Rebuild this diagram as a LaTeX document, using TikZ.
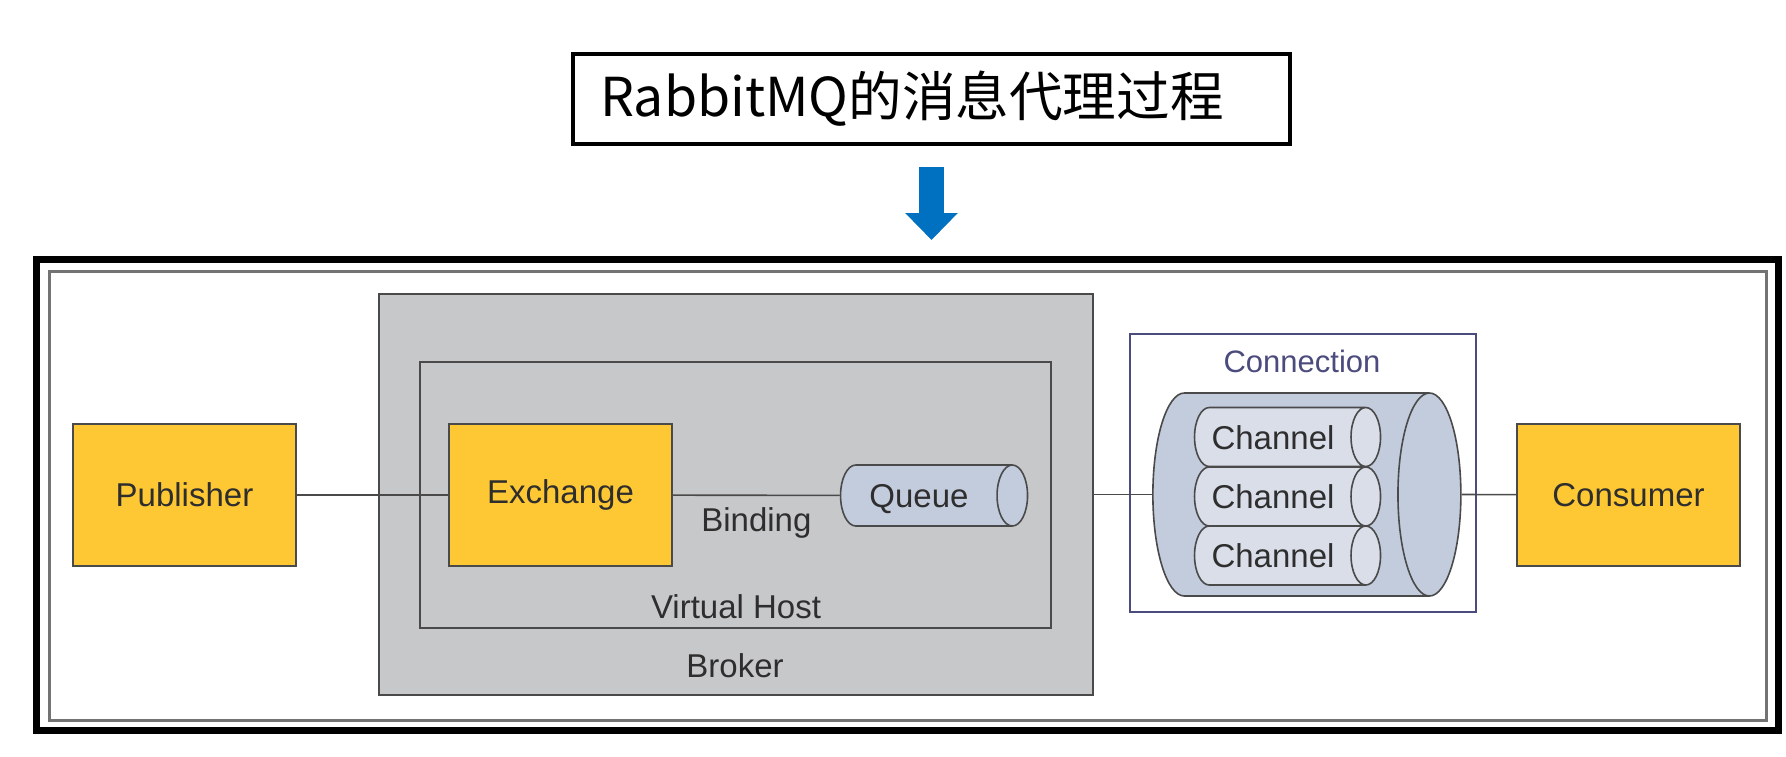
\documentclass[tikz,border=0pt]{standalone}
\usepackage{fontspec}
\setmainfont{Liberation Sans}
\newfontfamily\cjkfont{Noto Sans CJK SC}
\usetikzlibrary{shapes,arrows.meta,positioning}

\definecolor{boxyellow}{HTML}{FDC833}
\definecolor{brokergray}{HTML}{C7C8CA}
\definecolor{edgegray}{HTML}{4A4A4A}
\definecolor{textgray}{HTML}{2E2E2E}
\definecolor{pipeblue}{HTML}{C3CCDD}
\definecolor{chanblue}{HTML}{D9DEE9}
\definecolor{connpurple}{HTML}{4B4B7D}
\definecolor{arrowblue}{HTML}{0070C0}

\begin{document}
\begin{tikzpicture}[%
    x=0.5pt, y=-0.5pt,          % coordinates are pixels, y goes down
    every node/.style={font=\fontsize{16.5}{19}\selectfont, text=textgray},
    ]
% -------------------------------------------------
% A few box styles
\tikzset{
  base/.style={draw=edgegray, line width=1pt, align=center},
  role/.style={base, fill=boxyellow, minimum width=111.5pt, minimum height=71pt},
  area/.style={base, fill=brokergray},
  % cylinder: minimum height is the length, inner ysep gives the diameter
  pipe/.style={cylinder, base, line width=0.8pt, cylinder uses custom fill,
    cylinder body fill=#1, cylinder end fill=#1, inner xsep=0pt,
    text height=12pt, text depth=0pt},
  link/.style={draw=edgegray, line width=0.8pt},
  bigarrow/.style={draw=arrowblue, line width=12.5pt,
    -{Triangle[width=25.5pt,length=13.5pt]}},
  lbl/.style={inner sep=0pt}
}
\useasboundingbox (0,0) rectangle (1786,756);
% -------------------------------------------------
% Title and the frame round the picture
\node [draw=black, line width=2pt, minimum height=45pt, text width=331.5pt,
       inner xsep=13.5pt, align=left, font=\cjkfont\fontsize{26.8}{30}\selectfont,
       text=black] (title) at (931.5,99) {RabbitMQ的消息代理过程};
\node [draw=black, line width=3.5pt, minimum width=871pt, minimum height=235.5pt]
      (frame) at (907.5,495) {};
\node [draw=gray!90!black, line width=1.5pt, minimum width=858.5pt,
       minimum height=224.5pt] (panel) at (907.5,495.5) {};
\draw[bigarrow, shorten <=10.5pt, shorten >=8pt] (title.south) -- (title.south |- frame.north);

% -------------------------------------------------
% Broker with its virtual host
\node [area, minimum width=357pt, minimum height=200.5pt] (broker) at (736,494.5) {};
\node [base, minimum width=315.5pt, minimum height=133pt] (vhost) at (735.5,495) {};
\node [lbl] at (735,666) {Broker};
\node [lbl] at (736,607) {Virtual Host};

\node [role] (pub) at (184.5,495) {Publisher};
\node [role] (exch) at (560.5,495) {Exchange};
\node [pipe=pipeblue, minimum height=93.5pt, inner ysep=9.25pt, aspect=0.5]
      (queue) at (919,495.5) {Queue};

% -------------------------------------------------
% Connection holding the channels
\node [draw=connpurple, line width=1pt, fill=white, minimum width=173pt,
       minimum height=139pt] (connbox) at (1303,473) {};
\node [lbl, text=connpurple, font=\fontsize{15.5}{18}\selectfont] at (1302,361) {Connection};
\node [pipe=pipeblue, minimum height=154pt, inner ysep=50.75pt, text height=0pt,
       aspect=0.31] (conn) at (1275,494.5) {};
\node [pipe=chanblue, minimum height=93pt, inner ysep=8.75pt, aspect=0.5]
      (ch1) at (1273,437) {Channel};
\node [pipe=chanblue, minimum height=93pt, inner ysep=8.75pt, aspect=0.5]
      (ch2) at (1273,496.5) {Channel};
\node [pipe=chanblue, minimum height=93pt, inner ysep=8.75pt, aspect=0.5]
      (ch3) at (1273,555.5) {Channel};

\node [role] (cons) at (1628.5,495) {Consumer};

% -------------------------------------------------
% Connectors
\draw[link] (pub) -- (exch);
\draw[link] (exch) -- node[lbl, below=6pt] {Binding} (queue);
\draw[link] (broker.east) -- (conn.west);
\draw[link] (conn.east) -- (cons);

% -------------------------------------------------
\end{tikzpicture}
\end{document}
